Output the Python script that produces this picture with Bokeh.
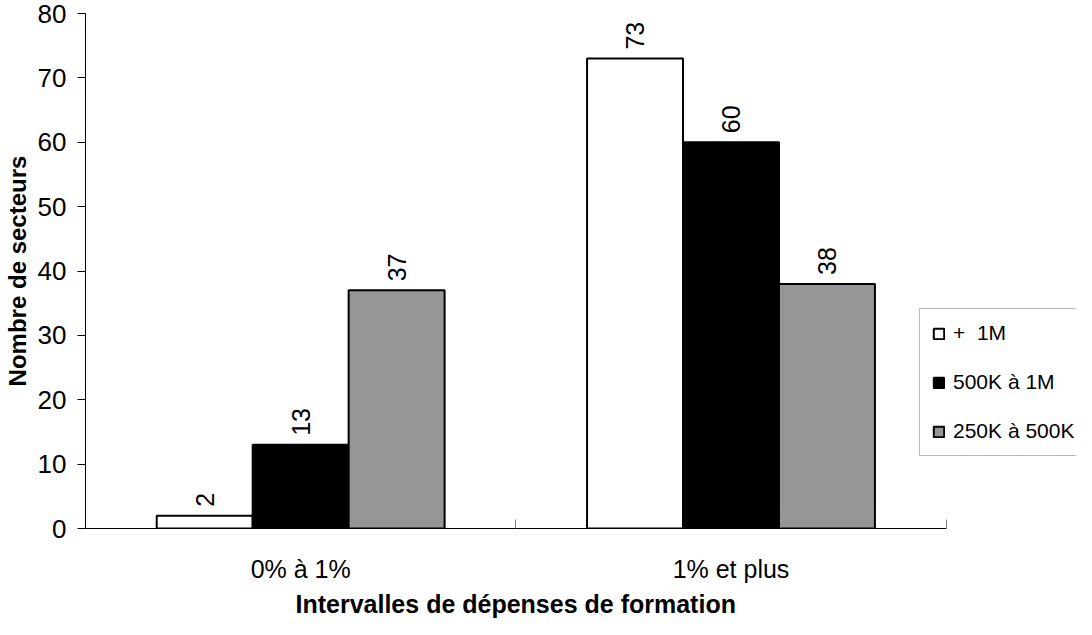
from bokeh.plotting import figure
from bokeh.models import (ColumnDataSource, Range1d, FixedTicker, SingleIntervalTicker,
                          Legend, LegendItem, Title)
from bokeh.embed import file_html
from bokeh.resources import INLINE
from bokeh.core.properties import value
import math

categories = ["0% à 1%", "1% et plus"]
series_names = ["+  1M", "500K à 1M", "250K à 500K"]
series_values = [
    [2, 73],    # + 1M
    [13, 60],   # 500K à 1M
    [37, 38],   # 250K à 500K
]
series_colors = ["#ffffff", "#000000", "#969696"]
y_ticks_interval = 10
y_max = 80
x_title = "Intervalles de dépenses de formation"
y_title = "Nombre de secteurs"

FONT = "Liberation Sans"
n = len(categories)

W, H = 1076, 619
LEFT, TOP, BOTTOM = 80, 13, 86
AXIS_PX = 865  # pixel length of the category axis
x_end = n * (W - LEFT) / AXIS_PX  # frame extends to the right edge (legend sits there)

p = figure(width=W, height=H, output_backend="svg", toolbar_location=None,
           x_range=Range1d(0, x_end), y_range=Range1d(0, y_max),
           min_border_left=LEFT, min_border_right=0, min_border_top=TOP,
           min_border_bottom=BOTTOM)
p.outline_line_color = None
p.grid.visible = False
p.background_fill_color = "white"

bar_w = 0.223
offsets = [-bar_w, 0.0, bar_w]
renderers = []
for vals, color, off in zip(series_values, series_colors, offsets):
    xs = [i + 0.5 + off for i in range(n)]
    src = ColumnDataSource(dict(x=xs, top=vals, lab=[str(v) for v in vals]))
    r = p.vbar(x="x", top="top", width=bar_w, bottom=0, source=src,
               fill_color=color, line_color="black", line_width=2)
    renderers.append(r)
    p.text(x="x", y="top", text="lab", source=src, angle=math.pi / 2,
           text_align="left", text_baseline="middle", y_offset=-9,
           text_font=value(FONT), text_font_size="25px", text_color="black")

# x axis
xa = p.xaxis[0]
xa.bounds = (0, n)
xa.ticker = FixedTicker(ticks=[i + 0.5 for i in range(n)],
                        minor_ticks=[float(i) for i in range(n + 1)])
xa.major_label_overrides = {i + 0.5: c for i, c in enumerate(categories)}
xa.major_tick_in = 0
xa.major_tick_out = 0
xa.minor_tick_in = 9
xa.minor_tick_out = 0
xa.minor_tick_line_color = "#808080"
xa.axis_line_color = "black"
xa.major_label_text_font = FONT
xa.major_label_text_font_size = "25px"
xa.major_label_text_color = "black"
xa.major_label_text_line_height = 1.0
xa.major_label_standoff = 26

# x axis title, placed under the category axis (not centred on the whole frame)
xt = Title(text=x_title, align="left", offset=210,
           standoff=4, text_font=FONT, text_font_style="bold",
           text_font_size="25px", text_color="black")
p.add_layout(xt, "below")

# y axis
ya = p.yaxis[0]
ya.ticker = SingleIntervalTicker(interval=y_ticks_interval, num_minor_ticks=0)
ya.major_tick_in = 0
ya.major_tick_out = 8
ya.minor_tick_in = 0
ya.minor_tick_out = 0
ya.axis_line_color = "black"
ya.major_tick_line_color = "black"
ya.major_label_text_font = FONT
ya.major_label_text_font_size = "26px"
ya.major_label_text_color = "black"
ya.major_label_standoff = 11
ya.axis_label = y_title
ya.axis_label_text_font = FONT
ya.axis_label_text_font_style = "bold"
ya.axis_label_text_font_size = "24px"
ya.axis_label_text_color = "black"
ya.axis_label_standoff = 4

legend = Legend(items=[LegendItem(label=nm, renderers=[r]) for nm, r in zip(series_names, renderers)],
                location=(834, 72), orientation="vertical",
                label_text_font=FONT, label_text_font_size="21px",
                label_text_color="black", label_height=24, label_width=150,
                label_standoff=8,
                glyph_width=13, glyph_height=13, spacing=25, padding=12, margin=0,
                border_line_color="#777777", border_line_width=1,
                background_fill_color="white", background_fill_alpha=1.0)
p.add_layout(legend, "center")

open("out.html", "w").write(file_html(p, INLINE))
